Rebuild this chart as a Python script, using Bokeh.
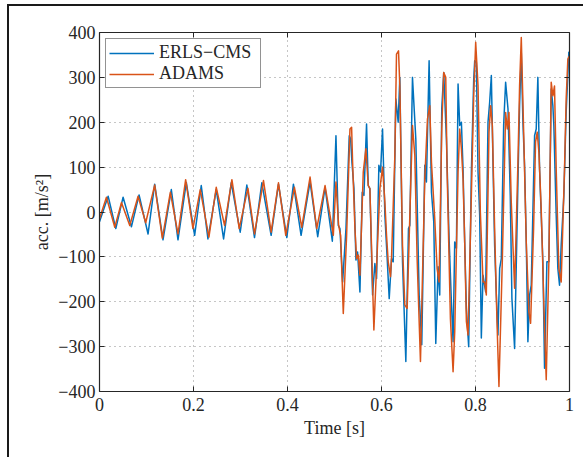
from bokeh.plotting import figure
from bokeh.models import LinearAxis, FixedTicker, CustomJSTickFormatter, Range1d
from bokeh.embed import file_html
from bokeh.resources import INLINE

# ---- data ----
erls_t = [0.000, 0.0184, 0.0347, 0.0502, 0.0679, 0.0842, 0.1033, 0.1174, 0.1351, 0.1528,
          0.1670, 0.1847, 0.2024, 0.2165, 0.2307, 0.2484, 0.2640, 0.2803, 0.2994, 0.3135,
          0.3298, 0.3454, 0.3652, 0.3808, 0.3985, 0.4126, 0.4289, 0.4480, 0.4643, 0.4799, 0.4954,
          0.5031, 0.5081, 0.5116, 0.5173, 0.5244, 0.5314, 0.5343, 0.5371, 0.5414, 0.5456,
          0.5491, 0.5541, 0.5590, 0.5626, 0.5682, 0.5718, 0.5753, 0.5810, 0.5859, 0.5895,
          0.5944, 0.5980, 0.6022, 0.6072, 0.6121, 0.6164, 0.6213, 0.6249, 0.6305, 0.6355,
          0.6390, 0.6447, 0.6518, 0.6574, 0.6603, 0.6659, 0.6730, 0.6801, 0.6857, 0.6921,
          0.6956, 0.7013, 0.7063, 0.7112, 0.7155, 0.7204, 0.7239, 0.7282, 0.7324, 0.7381, 0.7438,
          0.7487, 0.7523, 0.7558, 0.7594, 0.7629, 0.7664, 0.7700, 0.7735, 0.7770, 0.7806,
          0.7855, 0.7912, 0.7962, 0.7983, 0.8018, 0.8054, 0.8089, 0.8124, 0.8160, 0.8216,
          0.8266, 0.8301, 0.8337, 0.8372, 0.8407, 0.8443, 0.8478, 0.8514, 0.8549, 0.8599,
          0.8641, 0.8691, 0.8740, 0.8775, 0.8832, 0.8903, 0.8938, 0.8974, 0.9009, 0.9044,
          0.9080, 0.9115, 0.9151, 0.9186, 0.9257, 0.9292, 0.9327, 0.9363, 0.9434, 0.9469,
          0.9519, 0.9561, 0.9611, 0.9646, 0.9667, 0.9717, 0.9752, 0.9788, 0.9823, 0.9880,
          0.9929, 0.9986, 1.0000]
erls_a = [-22, 35, -37, 33, -33, 38, -49, 62, -62, 50,
          -62, 66, -52, 59, -60, 50, -60, 65, -45, 60,
          -57, 65, -52, 62, -57, 62, -52, 67, -55, 55, -65,
          170, -30, -37, -156, -37, 170, 163, 111, 52, -107,
          -89, -178, 44, 37, 196, 59, 52, -185, -115, -148,
          104, 89, 185, -7, -104, -193, -104, -111, 252, 200,
          300, -111, -333, -37, -30, 300, 163, -185, -296, 104,
          67, 337, 44, -22, -293, -122, -185, 230, 311, 163, -59,
          -200, -289, -67, -81, 285, 193, 200, 96, -67, -215,
          -300, 89, 296, 337, 333, 89, -7, -281, -141, -178,
          200, 244, 304, 111, -74, -185, -274, -126, -104, 193,
          289, 230, 37, -193, -304, 67, 237, 356, 200, 104,
          -67, -289, -185, -163, 170, 185, 300, 96, -111, -348,
          -111, -111, 274, 237, 193, -7, -126, -163, -74, 37,
          222, 356, 340]

adams_t = [0.000, 0.0148, 0.0325, 0.0467, 0.0644, 0.0821, 0.0983, 0.1174, 0.1337, 0.1507,
           0.1670, 0.1833, 0.1988, 0.2144, 0.2328, 0.2484, 0.2661, 0.2817, 0.2973, 0.3157,
           0.3298, 0.3489, 0.3652, 0.3808, 0.3963, 0.4147, 0.4303, 0.4480, 0.4622, 0.4799, 0.4975,
           0.5031, 0.5088, 0.5130, 0.5187, 0.5258, 0.5329, 0.5364, 0.5385, 0.5435, 0.5470,
           0.5506, 0.5541, 0.5612, 0.5668, 0.5718, 0.5753, 0.5838, 0.5966, 0.6022, 0.6072,
           0.6107, 0.6143, 0.6192, 0.6213, 0.6284, 0.6319, 0.6362, 0.6390, 0.6447, 0.6496,
           0.6546, 0.6617, 0.6659, 0.6709, 0.6758, 0.6829, 0.6921, 0.6978, 0.7027, 0.7063,
           0.7133, 0.7183, 0.7225, 0.7282, 0.7324, 0.7367, 0.7395, 0.7466,
           0.7523, 0.7558, 0.7629, 0.7664, 0.7700, 0.7735, 0.7770, 0.7806, 0.7841, 0.7912,
           0.7962, 0.8004, 0.8054, 0.8103, 0.8160, 0.8195, 0.8230, 0.8287, 0.8322, 0.8358,
           0.8407, 0.8457, 0.8499, 0.8570, 0.8641, 0.8676, 0.8712, 0.8761, 0.8832, 0.8903,
           0.8938, 0.8974, 0.9023, 0.9080, 0.9136, 0.9172, 0.9236, 0.9278, 0.9313, 0.9349,
           0.9398, 0.9469, 0.9505, 0.9561, 0.9611, 0.9646, 0.9681, 0.9717, 0.9773, 0.9823,
           0.9894, 0.9929, 0.9965, 1.0000]
adams_a = [-15, 33, -34, 21, -30, 35, -24, 60, -58, 44,
           -49, 72, -37, 50, -56, 55, -30, 72, -37, 53,
           -49, 70, -45, 65, -52, 55, -34, 78, -37, 59, -52,
           67, -30, -52, -226, -52, 185, 189, 111, -37, -104,
           -96, -141, 89, 141, 59, 52, -263, 52, 100, 22,
           -52, -111, -144, -104, 126, 352, 359, 281, -74, -207,
           -215, 44, 193, 126, -104, -333, 74, 207, 237, 111,
           -15, -126, -156, 185, 311, 300, 96, -237,
           -356, -267, 89, 185, 141, 74, -67, -244, -274, 37,
           259, 378, 281, 0, -156, -156, -185, 178, 237, 193,
           -37, -244, -389, -111, 222, 185, 222, 22, -170, 111,
           281, 389, 185, -67, -222, -248, -37, 156, 178, 133,
           7, -259, -374, -111, 289, 259, 281, 96, -126, -156,
           96, 252, 341, 348]

x_ticks = [0, 0.2, 0.4, 0.6, 0.8, 1]
x_tick_labels = ["0", "0.2", "0.4", "0.6", "0.8", "1"]
y_ticks = [-400, -300, -200, -100, 0, 100, 200, 300, 400]
y_tick_labels = ["\u2212400", "\u2212300", "\u2212200", "\u2212100", "0", "100", "200", "300", "400"]

series_names = ["ERLS\u2212CMS", "ADAMS"]
series_colors = ["#0072BD", "#D95319"]

FONT = "Liberation Serif"
TXT = "#262626"
AX = "#262626"

p = figure(frame_width=470, frame_height=359,
           x_range=Range1d(0, 1), y_range=Range1d(-400, 400),
           output_backend="svg", toolbar_location=None,
           min_border_left=99, min_border_right=14, min_border_top=32, min_border_bottom=66,
           background_fill_color="white", border_fill_color=None)
# outer figure border lines (left and top), painted behind the transparent canvas border
p.styles = {
    "background": ("linear-gradient(#1a1a1a, #1a1a1a) 7px 4px / 2px calc(100% - 4px) no-repeat, "
                   "linear-gradient(#1a1a1a, #1a1a1a) 7px 4px / calc(100% - 7px) 2px no-repeat, "
                   "#ffffff")
}

p.line(erls_t, erls_a, color=series_colors[0], line_width=1.5, line_join="round",
       legend_label=series_names[0])
p.line(adams_t, adams_a, color=series_colors[1], line_width=1.5, line_join="round",
       legend_label=series_names[1])

p.outline_line_color = None

def style_axis(ax, ticks, labels, show):
    ax.ticker = FixedTicker(ticks=ticks)
    ax.major_tick_in = 5
    ax.major_tick_out = 0
    ax.minor_tick_line_color = None
    ax.axis_line_color = AX
    ax.axis_line_width = 1.2
    ax.major_tick_line_color = AX
    ax.major_tick_line_width = 1
    if show:
        ax.major_label_overrides = {t: l for t, l in zip(ticks, labels)}
        ax.major_label_text_font = FONT
        ax.major_label_text_font_size = "18px"
        ax.major_label_text_color = TXT
        ax.major_label_standoff = 4
        ax.axis_label_text_font = FONT
        ax.axis_label_text_font_size = "18px"
        ax.axis_label_text_font_style = "normal"
        ax.axis_label_text_color = TXT
        ax.axis_label_standoff = 3
    else:
        ax.formatter = CustomJSTickFormatter(code="return ''")
        ax.major_label_text_font_size = "1px"
        ax.major_label_standoff = 0

xa = p.xaxis[0]
ya = p.yaxis[0]
style_axis(xa, x_ticks, x_tick_labels, True)
style_axis(ya, y_ticks, y_tick_labels, True)
xa.axis_label = "Time [s]"
xa.major_label_standoff = 6
xa.axis_label_standoff = 4
ya.axis_label = "acc. [m/s\u00b2]"
ya.axis_label_standoff = 3

top_ax = LinearAxis()
right_ax = LinearAxis()
style_axis(top_ax, x_ticks, x_tick_labels, False)
style_axis(right_ax, y_ticks, y_tick_labels, False)
p.add_layout(top_ax, "above")
p.add_layout(right_ax, "right")

p.xgrid.ticker = FixedTicker(ticks=x_ticks)
p.ygrid.ticker = FixedTicker(ticks=y_ticks)
for g in (p.xgrid[0], p.ygrid[0]):
    g.grid_line_color = "#8c8c8c"
    g.grid_line_width = 1
    g.grid_line_dash = "1 4"

lg = p.legend[0]
lg.location = "top_left"
lg.margin = 6
lg.padding = 3
lg.spacing = 0
lg.glyph_width = 45
lg.glyph_height = 20
lg.label_height = 20
lg.label_width = 98
lg.label_standoff = 5
lg.label_text_font = FONT
lg.label_text_font_size = "18px"
lg.label_text_color = TXT
lg.border_line_color = AX
lg.border_line_width = 1
lg.background_fill_color = "white"
lg.background_fill_alpha = 1.0

open("out.html", "w").write(file_html(p, INLINE))
